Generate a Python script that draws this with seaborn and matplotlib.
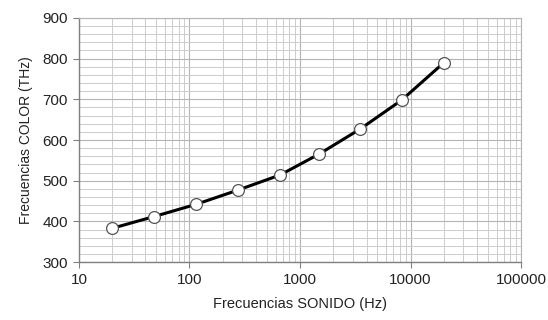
"""
Frecuencias de sonido vs frecuencias de color (escala log).
"""

import matplotlib
matplotlib.use('Agg')
import matplotlib.pyplot as plt
import matplotlib.ticker as mticker
import seaborn as sns
import pandas as pd

# Data
sonido_hz = [20, 48, 115, 275, 660, 1500, 3500, 8300, 20000]
color_thz = [383, 412, 442, 477, 514, 566, 627, 698, 790]

x_ticks = [10, 100, 1000, 10000, 100000]
y_ticks = [300, 400, 500, 600, 700, 800, 900]

sns.set_style('white')
plt.rcParams['font.family'] = ['Liberation Sans', 'DejaVu Sans']

df = pd.DataFrame({'sonido': sonido_hz, 'color': color_thz})

fig = plt.figure(figsize=(5.48, 3.20), dpi=100)
ax = fig.add_axes([0.144, 0.181, 0.807, 0.763])

sns.lineplot(data=df, x='sonido', y='color', ax=ax, color='black',
             linewidth=2.2, marker='o', markersize=8.5,
             markerfacecolor='white', markeredgecolor='#555555',
             markeredgewidth=0.9, zorder=3)

ax.set_xscale('log')
ax.set_xlim(10, 100000)
ax.set_ylim(300, 900)
ax.set_xticks(x_ticks)
ax.set_xticklabels([str(t) for t in x_ticks])
ax.xaxis.set_minor_locator(mticker.LogLocator(base=10, subs=range(2, 10)))
ax.xaxis.set_minor_formatter(mticker.NullFormatter())
ax.set_yticks(y_ticks)
ax.yaxis.set_minor_locator(mticker.MultipleLocator(20))

# Grid
ax.grid(True, which='major', color='#b4b4b4', linewidth=0.8)
ax.grid(True, which='minor', color='#cccccc', linewidth=0.7)
ax.set_axisbelow(True)

for side in ['top', 'right']:
    ax.spines[side].set_color('#b4b4b4')
    ax.spines[side].set_linewidth(0.8)
for side in ['left', 'bottom']:
    ax.spines[side].set_color('#808080')
    ax.spines[side].set_linewidth(1)

ax.tick_params(axis='both', which='major', length=4, color='#808080',
               labelsize=11, labelcolor='#222222', direction='out',
               bottom=True, left=True, pad=4)
ax.tick_params(axis='both', which='minor', length=0)

ax.set_xlabel('Frecuencias SONIDO (Hz)', fontsize=10.5, labelpad=7,
              color='#222222')
ax.set_ylabel('Frecuencias COLOR (THz)', fontsize=10, labelpad=7,
              color='#222222')

fig.savefig('out.png', dpi=100)
